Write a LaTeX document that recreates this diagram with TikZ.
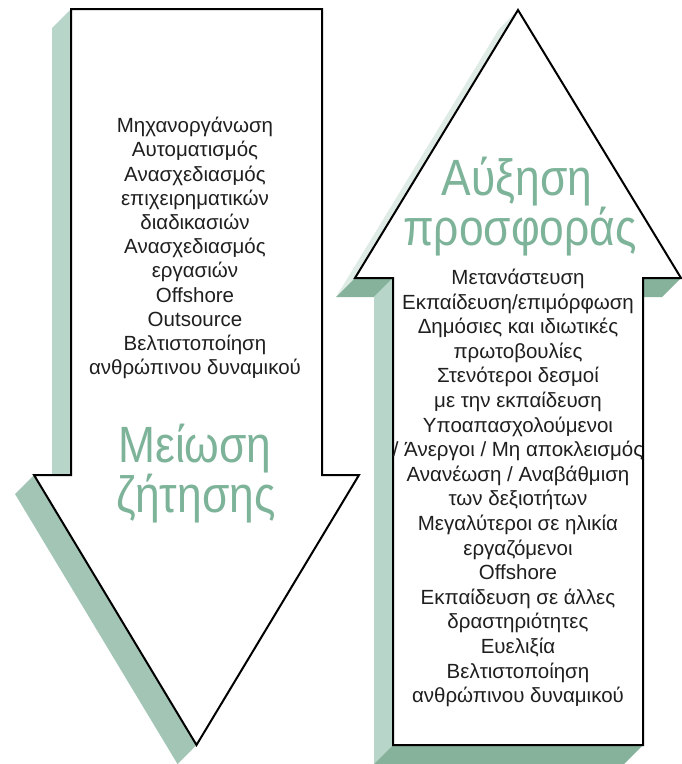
\documentclass[tikz,border=0pt]{standalone}
\usepackage{fontspec}
\setmainfont{Liberation Sans}
\definecolor{sidelight}{HTML}{B8D5C9}
\definecolor{sidemid}{HTML}{A3C5B5}
\definecolor{sidedark}{HTML}{86B29C}
\definecolor{sidepale}{HTML}{DFEBE5}
\definecolor{titlegreen}{HTML}{7DB399}
\tikzset{
  arrowbody/.style={draw=black, fill=white, line width=2pt, line join=miter},
  bodytext/.style={align=center, inner sep=0pt, font=\fontsize{20.5}{24.2}\selectfont, text=black!88},
  titletext/.style={inner sep=0pt, anchor=base, text=titlegreen, font=\fontsize{51}{51}\selectfont},
}
\newcommand{\titlescale}[1]{\scalebox{0.87}[1]{#1}}
\begin{document}
\begin{tikzpicture}[x=1pt,y=-1pt]
\useasboundingbox (0,0) rectangle (682,764);
\clip (0,0) rectangle (682,764);
% ---- down arrow (demand) ----
\fill[sidelight] (71,9) -- (52,28) -- (52,494) -- (71,475) -- cycle;
\fill[sidemid] (34,475) -- (15,494) -- (177.5,764) -- (196.5,745) -- cycle;
\draw[arrowbody] (71,9) -- (322,9) -- (322,475) -- (359,475) -- (196.5,745) -- (34,475) -- (71,475) -- cycle;
% ---- up arrow (supply) ----
\fill[sidepale] (355,278) -- (336,297) -- (499,29) -- (518,10) -- cycle;
\fill[sidedark] (355,278) -- (393,278) -- (374,297) -- (336,297) -- cycle;
\fill[sidelight] (393,278) -- (393,745) -- (374,764) -- (374,297) -- cycle;
\fill[sidedark] (393,745) -- (643,745) -- (624,764) -- (374,764) -- cycle;
\fill[sidedark] (643,278) -- (681,278) -- (662,297) -- (624,297) -- cycle;
\draw[arrowbody] (518,10) -- (681,278) -- (643,278) -- (643,745) -- (393,745) -- (393,278) -- (355,278) -- cycle;
% ---- texts ----
\node[bodytext] (demandlist) at (195,248) {Μηχανοργάνωση\\Αυτοματισμός\\Ανασχεδιασμός\\επιχειρηματικών\\διαδικασιών\\Ανασχεδιασμός\\εργασιών\\Offshore\\Outsource\\Βελτιστοποίηση\\ανθρώπινου δυναμικού};
\node[titletext] (demandtitleA) at (195,462) {\titlescale{Μείωση}};
\node[titletext] (demandtitleB) at (196,512) {\titlescale{ζήτησης}};
\node[titletext] (supplytitleA) at (517,195) {\titlescale{Αύξηση}};
\node[titletext] (supplytitleB) at (520,245) {\titlescale{προσφοράς}};
\node[bodytext, font=\fontsize{20.5}{24.6}\selectfont] (supplylist) at (518,488) {Μετανάστευση\\Εκπαίδευση/επιμόρφωση\\Δημόσιες και ιδιωτικές\\πρωτοβουλίες\\Στενότεροι δεσμοί\\με την εκπαίδευση\\Υποαπασχολούμενοι\\/ Άνεργοι / Μη αποκλεισμός\\Ανανέωση / Αναβάθμιση\\των δεξιοτήτων\\Μεγαλύτεροι σε ηλικία\\εργαζόμενοι\\Offshore\\Εκπαίδευση σε άλλες\\δραστηριότητες\\Ευελιξία\\Βελτιστοποίηση\\ανθρώπινου δυναμικού};
\end{tikzpicture}
\end{document}
